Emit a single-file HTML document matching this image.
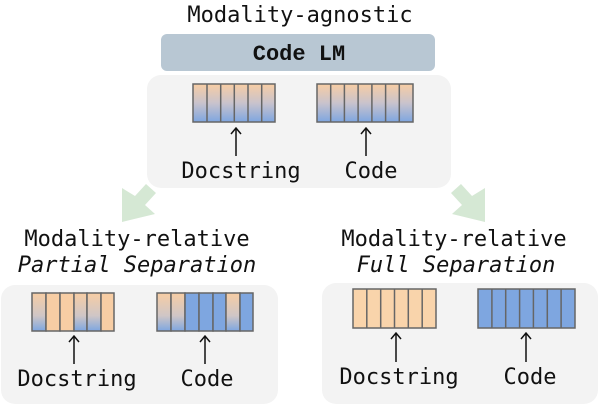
<!DOCTYPE html>
<html><head><style>
body{margin:0;background:#fff;}
svg text{font-family:"DejaVu Sans Mono","Liberation Mono",monospace;fill:#111;}
</style></head><body>
<svg width="600" height="404" viewBox="0 0 600 404" xmlns="http://www.w3.org/2000/svg">
<defs>
<linearGradient id="g" x1="0" y1="0" x2="0" y2="1">
<stop offset="0" stop-color="#f7cda4"/><stop offset="0.5" stop-color="#c9c3cc"/><stop offset="1" stop-color="#7ea6e0"/>
</linearGradient>
<linearGradient id="g2" x1="0" y1="0" x2="0" y2="1">
<stop offset="0" stop-color="#f7cda4"/><stop offset="0.6" stop-color="#cfc6c6"/><stop offset="1" stop-color="#7ea6e0"/>
</linearGradient>
</defs>
<text x="300" y="22" font-size="22" text-anchor="middle">Modality-agnostic</text>
<rect x="161" y="34" width="274" height="37" rx="6" fill="#b8c7d3"/>
<text x="299" y="60" font-size="22" font-weight="bold" text-anchor="middle" style="font-family:'Liberation Mono',monospace">Code LM</text>
<rect x="147" y="75" width="304" height="113" rx="14" fill="#f3f3f3"/>
<g stroke="#666" stroke-width="1.5">
<rect x="193" y="84" width="82" height="38" fill="url(#g)"/>
<path d="M207 84V122M220.7 84V122M234.3 84V122M248 84V122M261.7 84V122"/>
<rect x="317" y="84" width="96" height="38" fill="url(#g)"/>
<path d="M330.7 84V122M344.4 84V122M358.1 84V122M371.9 84V122M385.6 84V122M399.3 84V122"/>
</g>
<g stroke="#111" stroke-width="1.5" fill="none">
<path d="M236 156V128M231 134L236 128L241 134"/>
<path d="M366 156V128M361 134L366 128L371 134"/>
</g>
<text x="241" y="178" font-size="22" text-anchor="middle">Docstring</text>
<text x="371" y="178" font-size="22" text-anchor="middle">Code</text>
<g fill="#d5e8d4">
<polygon points="122,188 122,222 155,214 145,205 156,193 146,184 135,196"/>
<polygon points="485,188 485,222 452,214 462,205 451,193 461,184 472,196"/>
</g>
<text x="137" y="246" font-size="22" text-anchor="middle">Modality-relative</text>
<text x="137" y="272" font-size="22" font-style="italic" text-anchor="middle">Partial Separation</text>
<text x="454" y="246" font-size="22" text-anchor="middle">Modality-relative</text>
<text x="456" y="272" font-size="22" font-style="italic" text-anchor="middle">Full Separation</text>
<rect x="1" y="285" width="277" height="119" rx="14" fill="#f3f3f3"/>
<rect x="322" y="283" width="276" height="121" rx="14" fill="#f3f3f3"/>
<g stroke="#666" stroke-width="1.5">
<rect x="32" y="293" width="14" height="38" fill="url(#g2)"/>
<rect x="46" y="293" width="14" height="38" fill="#f7cda4"/>
<rect x="60" y="293" width="14" height="38" fill="#f7cda4"/>
<rect x="74" y="293" width="13" height="38" fill="url(#g2)"/>
<rect x="87" y="293" width="14" height="38" fill="url(#g2)"/>
<rect x="101" y="293" width="13" height="38" fill="#f7cda4"/>
<rect x="157" y="293" width="14" height="38" fill="url(#g2)"/>
<rect x="171" y="293" width="14" height="38" fill="url(#g2)"/>
<rect x="185" y="293" width="14" height="38" fill="#7ea6e0"/>
<rect x="199" y="293" width="14" height="38" fill="#7ea6e0"/>
<rect x="213" y="293" width="13" height="38" fill="#7ea6e0"/>
<rect x="226" y="293" width="14" height="38" fill="url(#g2)"/>
<rect x="240" y="293" width="13" height="38" fill="#7ea6e0"/>
<rect x="353" y="289" width="83" height="39" fill="#f9d4ab"/>
<path d="M366.8 289V328M380.7 289V328M394.5 289V328M408.3 289V328M422.2 289V328"/>
<rect x="478" y="289" width="97" height="39" fill="#7ea6e0"/>
<path d="M491.9 289V328M505.7 289V328M519.6 289V328M533.4 289V328M547.3 289V328M561.1 289V328"/>
</g>
<g stroke="#111" stroke-width="1.5" fill="none">
<path d="M74 364V336M69 342L74 336L79 342"/>
<path d="M205 364V336M200 342L205 336L210 342"/>
<path d="M396 362V333M391 339L396 333L401 339"/>
<path d="M526 362V333M521 339L526 333L531 339"/>
</g>
<text x="77" y="386" font-size="22" text-anchor="middle">Docstring</text>
<text x="207" y="386" font-size="22" text-anchor="middle">Code</text>
<text x="399" y="384" font-size="22" text-anchor="middle">Docstring</text>
<text x="530" y="384" font-size="22" text-anchor="middle">Code</text>
</svg>
</body></html>
